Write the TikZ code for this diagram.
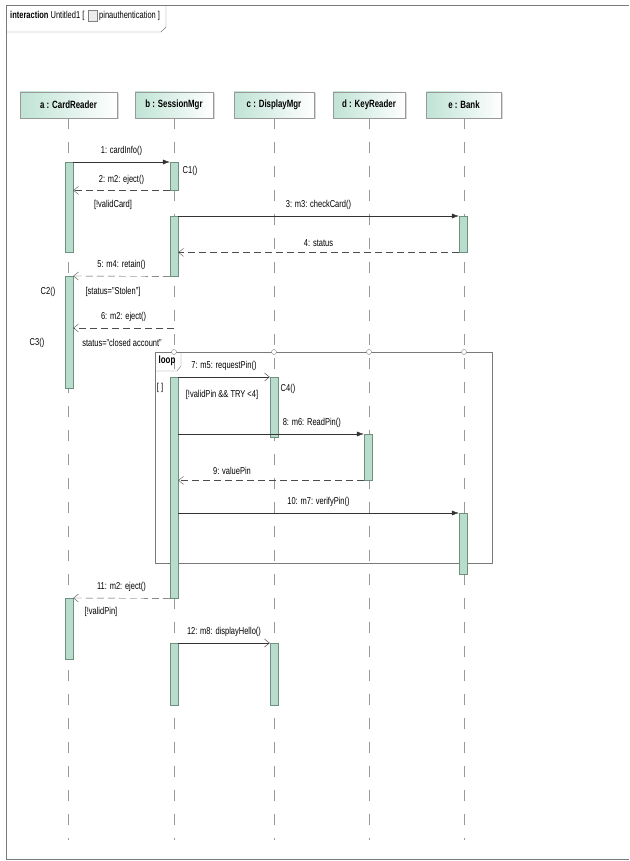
\documentclass[tikz,border=0pt]{standalone}
\usepackage{fontspec}
\setmainfont{Liberation Sans}[FakeStretch=0.75]
\usetikzlibrary{arrows.meta,positioning,shadows}

\definecolor{actfill}{HTML}{B9DDCC}
\definecolor{actdraw}{HTML}{6F8F80}
\definecolor{headtop}{HTML}{BFE3D5}
\definecolor{framegray}{HTML}{7A7A7A}

\begin{document}
\begin{tikzpicture}[
  x=1pt, y=-1pt,
  every node/.style={font=\fontsize{10}{11}\selectfont, inner sep=1pt},
  head/.style={draw=gray!80, left color=headtop, right color=white, minimum height=26pt, font=\fontsize{10.5}{12}\selectfont\bfseries, drop shadow={shadow xshift=1.5pt, shadow yshift=-1.5pt, fill=gray!60}},
  lifeline/.style={draw=gray!80, dash pattern=on 11pt off 13pt},
  act/.style={draw=actdraw, fill=actfill, minimum width=8pt, inner sep=0pt, anchor=north},
  call/.style={draw=black!80, -{Latex[length=7pt,width=5pt]}},
  send/.style={draw=black!80, -{Straight Barb[length=5pt,width=8pt]}},
  reply/.style={draw=black!70, dash pattern=on 7pt off 4pt, -{Straight Barb[length=5pt,width=8pt]}},
  msg/.style={above=5pt}
]
  \useasboundingbox (0,0) rectangle (629,861);

  % frame and tag
  \draw[framegray] (629,5) -- (6,5) -- (6,859) -- (629,859);
  \draw[framegray] (6,32) -- (161,32) -- (166,27) -- (166,5);
  \node[anchor=west] (tag) at (9,16) {\textbf{interaction}\ Untitled1 [};
  \node[draw=gray, fill=gray!15, minimum width=9pt, minimum height=11pt, inner sep=0pt, right=2pt of tag] (icon) {};
  \node[right=1pt of icon] (diagname) {pinauthentication ]};

  % lifeline heads
  \node[head, minimum width=97pt] (a) at (68.5,105) {a : CardReader};
  \node[head, minimum width=78pt] (b) at (174,105) {b : SessionMgr};
  \node[head, minimum width=80pt] (c) at (274,105) {c : DisplayMgr};
  \node[head, minimum width=72pt] (d) at (369,105) {d : KeyReader};
  \node[head, minimum width=75pt] (e) at (464,105) {e : Bank};

  \foreach \h in {a,b,c,d,e}
    \draw[lifeline] (\h.south) -- (\h.south |- 0,840);

  % loop fragment
  \draw[framegray] (155,352) rectangle (492,563);
  \draw[framegray] (155,371) -- (177,371) -- (181,366) -- (181,352);
  \node[font=\fontsize{10.5}{12}\selectfont\bfseries] (looptag) at (167,361) {loop};
  \foreach \h in {b,c,d,e}
    \draw[gray, fill=white] (\h |- 0,352) circle (2.5pt);

  % activations
  \node[act, minimum height=90pt] (a1) at (69,162) {};
  \node[act, minimum height=112pt] (a2) at (69,276) {};
  \node[act, minimum height=61pt] (a3) at (69,598) {};
  \node[act, minimum height=28pt] (b1) at (174,162) {};
  \node[act, minimum height=60pt] (b2) at (174,216) {};
  \node[act, minimum height=221pt] (b3) at (174,377) {};
  \node[act, minimum height=62pt] (b4) at (174,643) {};
  \node[act, minimum height=60pt] (c1) at (274,377) {};
  \node[act, minimum height=62pt] (c2) at (274,643) {};
  \node[act, minimum height=46pt] (d1) at (368,434) {};
  \node[act, minimum height=36pt] (e1) at (463,216) {};
  \node[act, minimum height=61pt] (e2) at (463,513) {};
  \coordinate (b6) at (174,328);

  % messages
  \draw[call] (a1.north east) -- node[msg] {1: cardInfo()} (b1.north west);
  \draw[reply] (b1.south west) -- node[msg] {2: m2: eject()} (a1.east |- b1.south);
  \draw[call] (b2.north east) -- node[msg] {3: m3: checkCard()} (e1.north west);
  \draw[reply] (e1.south west) -- node[msg] {4: status} (b2.east |- e1.south);
  \draw[reply] (b2.south west) -- node[msg] {5: m4: retain()} (a2.north east);
  \draw[reply] (b6) -- node[msg] {6: m2: eject()} (a2.east |- b6);
  \draw[send] (b3.north east) -- node[msg] {7: m5: requestPin()} (c1.north west);
  \draw[call] (b3.east |- d1.north) -- node[msg, pos=0.72] {8: m6: ReadPin()} (d1.north west);
  \draw[reply] (d1.south west) -- node[msg, pos=0.71] {9: valuePin} (b3.east |- d1.south);
  \draw[call] (b3.east |- e2.north) -- node[msg] {10: m7: verifyPin()} (e2.north west);
  \draw[reply] (b3.south west) -- node[msg] {11: m2: eject()} (a3.north east);
  \draw[send] (b4.north east) -- node[msg] {12: m8: displayHello()} (c2.north west);

  % guards and notes
  \node (c1note) at (190,171) {C1()};
  \node (g1) at (113,205) {[!validCard]};
  \node (c2note) at (48,292) {C2()};
  \node (g2) at (113,292) {[status="Stolen"]};
  \node (c3note) at (37,343) {C3()};
  \node (g3) at (122,343) {status="closed account"};
  \node (g4) at (160,388) {[ ]};
  \node (g5) at (222,395) {[!validPin \&\& TRY <4]};
  \node (c4note) at (288,389) {C4()};
  \node (g6) at (101,612) {[!validPin]};
\end{tikzpicture}
\end{document}
